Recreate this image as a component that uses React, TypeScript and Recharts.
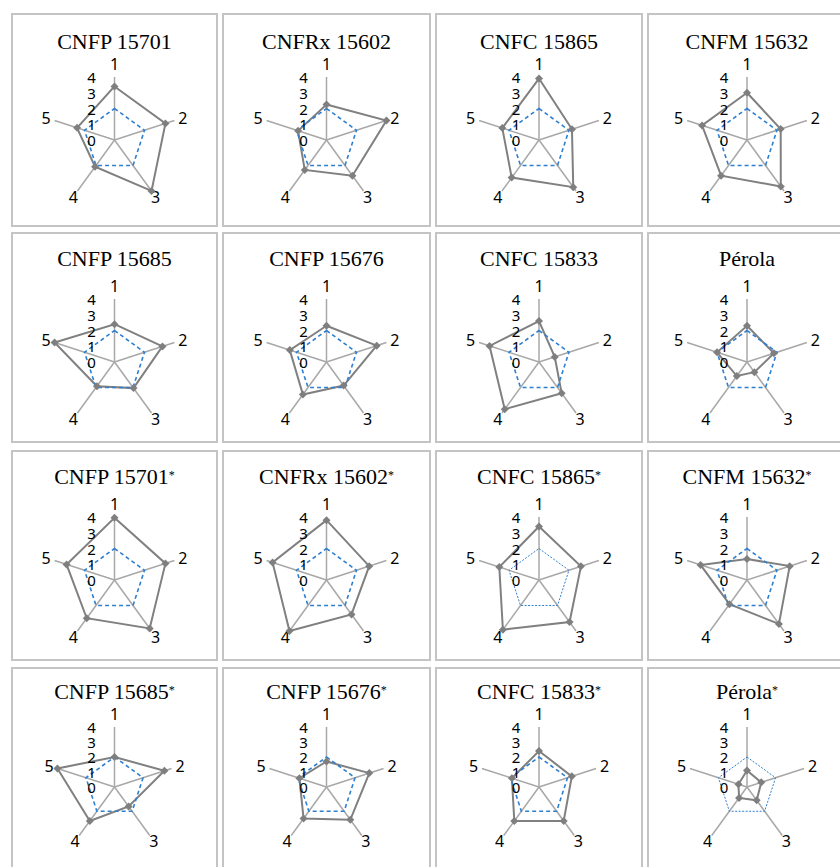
import React from 'react';
import { RadarChart, Radar, PolarGrid, PolarAngleAxis, PolarRadiusAxis } from 'recharts';

// axes of every radar (traits 1..5) and the radius scale
const traits = ['1', '2', '3', '4', '5'];
const radiusTicks = [0, 1, 2, 3, 4];

// blue dashed reference polygon
const checkScores = [2, 2, 2, 2, 2];

// grey genotype scores, one list per panel
const cnfp15701 = [3.4, 3.4, 4.0, 2.1, 2.5];
const cnfrx15602 = [2.25, 4.0, 2.8, 2.35, 1.9];
const cnfc15865 = [3.9, 2.2, 3.7, 2.95, 2.45];
const cnfm15632 = [3.0, 2.25, 3.65, 2.8, 3.0];
const cnfp15685 = [2.4, 3.2, 2.05, 1.9, 4.0];
const cnfp15676 = [2.3, 3.35, 1.85, 2.55, 2.45];
const cnfc15833 = [2.6, 1.05, 2.45, 3.7, 3.3];
const perola = [2.3, 1.8, 0.8, 1.1, 2.0];
const cnfp15701b = [3.95, 3.4, 3.8, 3.0, 3.2];
const cnfrx15602b = [3.8, 2.85, 2.7, 4.0, 3.6];
const cnfc15865b = [3.4, 2.8, 3.3, 3.9, 2.65];
const cnfm15632b = [1.33, 2.85, 3.45, 1.9, 3.1];
const cnfp15685b = [2.0, 3.5, 1.6, 2.8, 4.0];
const cnfp15676b = [1.7, 3.0, 2.7, 2.6, 1.9];
const cnfc15833b = [2.4, 2.3, 2.8, 2.8, 1.9];
const perolab = [1.1, 1.0, 1.1, 0.9, 0.6];

const panels = [
  { title: 'CNFP 15701', star: false, scores: cnfp15701 },
  { title: 'CNFRx 15602', star: false, scores: cnfrx15602 },
  { title: 'CNFC 15865', star: false, scores: cnfc15865 },
  { title: 'CNFM 15632', star: false, scores: cnfm15632 },
  { title: 'CNFP 15685', star: false, scores: cnfp15685 },
  { title: 'CNFP 15676', star: false, scores: cnfp15676 },
  { title: 'CNFC 15833', star: false, scores: cnfc15833 },
  { title: 'Pérola', star: false, scores: perola },
  { title: 'CNFP 15701', star: true, scores: cnfp15701b },
  { title: 'CNFRx 15602', star: true, scores: cnfrx15602b },
  { title: 'CNFC 15865', star: true, scores: cnfc15865b, thin: true },
  { title: 'CNFM 15632', star: true, scores: cnfm15632b },
  { title: 'CNFP 15685', star: true, scores: cnfp15685b },
  { title: 'CNFP 15676', star: true, scores: cnfp15676b },
  { title: 'CNFC 15833', star: true, scores: cnfc15833b },
  { title: 'Pérola', star: true, scores: perolab, thin: true },
];

// layout
const colLeft = [11, 222, 435, 647];
const colWidth = [207, 209, 208, 200];
const rowTop = [13, 232, 450, 667];
const rowHeight = [214, 211, 211, 205];
const titleTop = [14, 12, 12, 10];
const centerY = [127, 130, 130, 120];
const outerR = [63, 63, 63, 60];
const BORDER = 2;

const sans = '"Noto Sans", sans-serif';

function Diamond(props: any) {
  const { cx, cy } = props;
  if (cx == null || cy == null) return null;
  const s = 4;
  return (
    <polygon
      points={`${cx},${cy - s} ${cx + s},${cy} ${cx},${cy + s} ${cx - s},${cy}`}
      fill="#7f7f7f"
      stroke="none"
    />
  );
}

function Panel({ idx }: { idx: number }) {
  const p = panels[idx];
  const col = idx % 4;
  const row = Math.floor(idx / 4);
  const w = colWidth[col];
  const h = rowHeight[row];
  const cx = w / 2 - BORDER;
  const cy = centerY[row] - BORDER;
  const r = outerR[row];
  const data = traits.map((t, i) => ({ trait: t, check: checkScores[i], score: p.scores[i] }));

  const angleTick = (props: any) => {
    const { x, y, payload } = props;
    const dx = x - cx;
    const dy = y - cy;
    const len = Math.sqrt(dx * dx + dy * dy) || 1;
    const lr = r + 7 + 6 * Math.max(0, -dy / len);
    return (
      <text
        x={cx + (dx / len) * lr}
        y={cy + (dy / len) * lr}
        textAnchor="middle"
        dominantBaseline="central"
        fontFamily={sans}
        fontSize={16}
        fill="#000"
      >
        {payload.value}
      </text>
    );
  };

  const radiusTick = (props: any) => {
    const { x, y, payload } = props;
    return (
      <text
        x={x - 23}
        y={y}
        textAnchor="middle"
        dominantBaseline="central"
        fontFamily={sans}
        fontSize={15}
        fill="#000"
      >
        {payload.value}
      </text>
    );
  };

  return (
    <div
      style={{
        position: 'absolute',
        left: colLeft[col],
        top: rowTop[row],
        width: w,
        height: h,
        border: `${BORDER}px solid #c4c4c4`,
        boxSizing: 'border-box',
        background: '#fff',
      }}
    >
      <RadarChart
        width={w - 2 * BORDER}
        height={h - 2 * BORDER}
        data={data}
        cx={cx}
        cy={cy}
        outerRadius={r}
        startAngle={90}
        endAngle={-270}
        margin={{ top: 0, right: 0, bottom: 0, left: 0 }}
      >
        <PolarGrid gridType="polygon" polarRadius={[]} stroke="#a8a8a8" strokeWidth={1.5} />
        <PolarAngleAxis dataKey="trait" tick={angleTick} tickLine={false} axisLine={false} />
        <PolarRadiusAxis
          angle={90}
          type="number"
          domain={[0, 4]}
          ticks={radiusTicks}
          tickCount={5}
          axisLine={false}
          tick={radiusTick}
        />
        <Radar
          dataKey="score"
          stroke="#808080"
          strokeWidth={2}
          fill="none"
          fillOpacity={0}
          dot={<Diamond />}
          isAnimationActive={false}
        />
        <Radar
          dataKey="check"
          stroke="#2e7fd0"
          strokeWidth={p.thin ? 1 : 1.6}
          strokeDasharray={p.thin ? '2 1.5' : '4 3'}
          fill="none"
          fillOpacity={0}
          dot={false}
          isAnimationActive={false}
        />
      </RadarChart>
      <div
        style={{
          position: 'absolute',
          left: 0,
          right: 0,
          top: titleTop[row],
          textAlign: 'center',
          fontFamily: '"Liberation Serif", serif',
          fontSize: 22,
          lineHeight: '26px',
          color: '#000',
          pointerEvents: 'none',
        }}
      >
        {p.title}
        {p.star && <sup style={{ fontSize: 12, verticalAlign: 'top', position: 'relative', top: -2 }}>*</sup>}
      </div>
    </div>
  );
}

export default function App() {
  return (
    <div style={{ position: 'absolute', left: 0, top: 0, width: 840, height: 867, background: '#fff', overflow: 'hidden' }}>
      {panels.map((_, i) => (
        <Panel key={i} idx={i} />
      ))}
    </div>
  );
}
